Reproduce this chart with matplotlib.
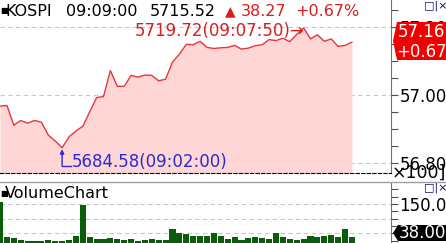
import numpy as np
import matplotlib
matplotlib.use('Agg')
import matplotlib.pyplot as plt
from matplotlib.patches import Polygon
from matplotlib.lines import Line2D
from matplotlib.ticker import MultipleLocator, FuncFormatter
from matplotlib.transforms import offset_copy

# 10-second ticks, 09:00:30 .. 09:09:00
times = ['09:00:30', '09:00:40', '09:00:50', '09:01:00', '09:01:10', '09:01:20',
         '09:01:30', '09:01:40', '09:01:50', '09:02:00', '09:02:10', '09:02:20',
         '09:02:30', '09:02:40', '09:02:50', '09:03:00', '09:03:10', '09:03:20',
         '09:03:30', '09:03:40', '09:03:50', '09:04:00', '09:04:10', '09:04:20',
         '09:04:30', '09:04:40', '09:04:50', '09:05:00', '09:05:10', '09:05:20',
         '09:05:30', '09:05:40', '09:05:50', '09:06:00', '09:06:10', '09:06:20',
         '09:06:30', '09:06:40', '09:06:50', '09:07:00', '09:07:10', '09:07:20',
         '09:07:30', '09:07:40', '09:07:50', '09:08:00', '09:08:10', '09:08:20',
         '09:08:30', '09:08:40', '09:08:50', '09:09:00']
price = [5696.8, 5697.0, 5691.2, 5692.6, 5691.8, 5692.6, 5692.1, 5688.3, 5686.6, 5684.58,
         5687.8, 5689.5, 5690.9, 5695.1, 5699.3, 5699.6, 5707.2, 5702.6, 5702.6, 5705.8,
         5705.3, 5705.9, 5705.8, 5704.2, 5704.7, 5709.7, 5712.0, 5714.9, 5714.8, 5715.8,
         5714.0, 5713.7, 5713.9, 5714.0, 5714.6, 5713.5, 5713.8, 5714.5, 5714.8, 5716.3,
         5716.0, 5716.7, 5715.7, 5717.8, 5719.72, 5716.5, 5717.7, 5715.8, 5716.5, 5714.3,
         5714.6, 5715.52]
volume = [156, 38, 35, 28, 25, 25, 25, 28, 25, 25, 28, 42, 147, 38, 31, 31, 35, 31, 28, 31,
          25, 28, 31, 28, 28, 65, 52, 47, 40, 40, 40, 51, 40, 30, 37, 27, 34, 37, 34, 30,
          51, 37, 30, 27, 30, 40, 37, 40, 44, 37, 64, 38]

W, H = 446, 243
RED = '#e8343a'
TXT_RED = '#d81e1e'
BLUE = '#2a2ad0'
GRID = '#c8c8c8'
BAR = '#0a5e0a'


def fx(x):
    return x / W


def fy(y):
    return 1 - y / H


x = np.arange(len(price))
i_max = int(np.argmax(price))
i_min = int(np.argmin(price))

fig = plt.figure(figsize=(W / 100, H / 100), dpi=100)
fig.patch.set_facecolor('white')

# price panel
ax = fig.add_axes([0, fy(173), fx(391), 173 / H])
ax.set_xlim(0, 391 / 6.9)
ax.set_ylim(5677.2, 5727.9)
ax.fill_between(x, price, 5677.2, color='#ffd6d6', lw=0)
ax.plot(x, price, color=RED, lw=1)
for g in (5680, 5700, 5720):
    ax.axhline(g, color=GRID, lw=0.8, ls=(0, (4, 3)), zorder=0)
for s in ('top', 'left'):
    ax.spines[s].set_visible(False)
ax.spines['bottom'].set_linestyle((0, (3, 2)))
ax.spines['bottom'].set_color('black')
ax.spines['right'].set_color('#707070')
ax.set_xticks([])
ax.yaxis.tick_right()
ax.yaxis.set_major_locator(MultipleLocator(20))
ax.yaxis.set_minor_locator(MultipleLocator(5))
ax.yaxis.set_major_formatter(FuncFormatter(lambda v, p: f'{v / 100:.2f}'))
ax.tick_params(axis='y', which='both', direction='out', length=5, width=0.8,
               color='#505050', labelsize=12, pad=1)

# max / min annotations
ax.annotate(f'{price[i_max]:.2f}({times[i_max]})\u2192', xy=(i_max, price[i_max]),
            xytext=(1, -3), textcoords='offset pixels', ha='right', va='center',
            color=TXT_RED, fontsize=12)
ax.annotate('', xy=(i_min, price[i_min]), xytext=(0, -18), textcoords='offset pixels',
            arrowprops=dict(arrowstyle='-|>', color=BLUE, lw=1, shrinkA=0, shrinkB=1,
                            mutation_scale=6))
tr = offset_copy(ax.transData, fig=fig, x=0, y=-18, units='dots')
ax.plot([i_min, i_min + 1.3], [price[i_min], price[i_min]], color=BLUE, lw=1,
        transform=tr, clip_on=False)
ax.annotate(f'{price[i_min]:.2f}({times[i_min]})', xy=(i_min, price[i_min]),
            xytext=(10, -14), textcoords='offset pixels', ha='left', va='center',
            color=BLUE, fontsize=12)

# volume panel
vx = fig.add_axes([0, 0, fx(391), 60 / H])
vx.set_xlim(0, 391 / 6.9)
vx.set_ylim(16.6, 221.8)
vx.bar(x, volume, width=0.87, color=BAR, lw=0)
for g in (50, 100, 150):
    vx.axhline(g, color=GRID, lw=0.8, ls=(0, (4, 3)), zorder=0)
for s in ('top', 'left', 'bottom'):
    vx.spines[s].set_visible(False)
vx.spines['right'].set_color('#707070')
vx.set_xticks([])
vx.yaxis.tick_right()
vx.yaxis.set_major_locator(MultipleLocator(150))
vx.yaxis.set_minor_locator(MultipleLocator(25))
vx.yaxis.set_major_formatter(FuncFormatter(lambda v, p: f'{v:.2f}' if v == 150 else ''))
vx.tick_params(axis='y', which='both', direction='out', length=5, width=0.8,
               color='#505050', labelsize=12, pad=1)

# panel separator
fig.add_artist(Line2D([0, 1], [fy(182), fy(182)], color='#a0a0a0', lw=1))

# header texts
fig.text(fx(0), fy(11), '\u25a0', fontsize=6, va='center', ha='left')
fig.text(fx(5), fy(11), 'KOSPI', fontsize=11.5, va='center', ha='left')
fig.text(fx(66), fy(11), times[-1], fontsize=11.5, va='center', ha='left')
fig.text(fx(150), fy(11), f'{price[-1]:.2f}', fontsize=11.5, va='center', ha='left')
fig.text(fx(225), fy(11), '\u25b2', fontsize=10, va='center', ha='left', color=TXT_RED)
fig.text(fx(241), fy(11), '38.27', fontsize=11.5, va='center', ha='left', color=TXT_RED)
fig.text(fx(295), fy(11), '+0.67%', fontsize=11.5, va='center', ha='left', color=TXT_RED)
fig.text(fx(0), fy(193), '\u25a0', fontsize=6, va='center', ha='left')
fig.text(fx(5), fy(193), 'VolumeChart', fontsize=11.5, va='center', ha='left')
for yy in (6, 188):
    fig.text(fx(424), fy(yy), '\u25a1|\u00d7', fontsize=8, va='center', ha='left',
             color='#10106a')

# current price box
red_box = Polygon([(fx(393), fy(41)), (fx(397), fy(22)), (fx(447), fy(22)),
                   (fx(447), fy(60)), (fx(397), fy(60))], closed=True,
                  transform=fig.transFigure, color='#f00000', lw=0)
fig.add_artist(red_box)
fig.text(fx(398), fy(32), f'{price[-1] / 100:.2f}', fontsize=12, color='white',
         va='center', ha='left')
fig.text(fx(396), fy(52), '+0.67%', fontsize=12, color='white', va='center', ha='left')

# current volume box
blk_box = Polygon([(fx(393), fy(233)), (fx(398), fy(225)), (fx(447), fy(225)),
                   (fx(447), fy(241)), (fx(398), fy(241))], closed=True,
                  transform=fig.transFigure, color='black', lw=0)
fig.add_artist(blk_box)
fig.text(fx(399), fy(233), f'{volume[-1]:.2f}', fontsize=12, color='white',
         va='center', ha='left')

fig.text(fx(392), fy(173), '\u00d7100]', fontsize=12.5, va='center', ha='left')

fig.savefig('out.png', dpi=100)
